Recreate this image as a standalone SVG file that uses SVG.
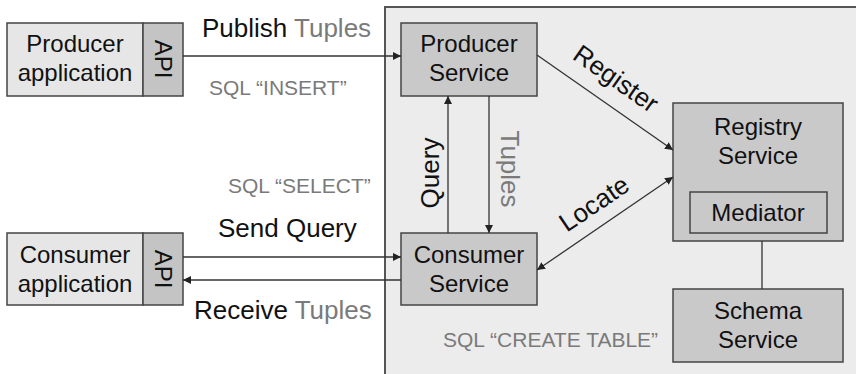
<svg xmlns="http://www.w3.org/2000/svg" width="856" height="374" viewBox="0 0 856 374">
  <defs>
    <marker id="arrow" viewBox="0 0 10 10" refX="10" refY="5" markerWidth="8" markerHeight="8" markerUnits="userSpaceOnUse" orient="auto-start-reverse">
      <path d="M0,0 L10,5 L0,10 z" fill="#222"/>
    </marker>
    <style>
      text { font-family: "Liberation Sans", Arial, sans-serif; }
      .box { fill: #c9c9c9; stroke: #444; stroke-width: 1.5; }
      .app { fill: #e6e6e6; stroke: #444; stroke-width: 1.5; }
      .api { fill: #c4c4c4; stroke: #444; stroke-width: 1.5; }
      .lbl { font-size: 24px; fill: #111; text-anchor: middle; }
      .big { font-size: 26px; fill: #111; }
      .grey { fill: #7a7a7a; }
      .sql { font-size: 21px; fill: #7a7a7a; }
      .wire { stroke: #333; stroke-width: 1.3; fill: none; }
    </style>
  </defs>

  <rect width="856" height="374" fill="#ffffff"/>

  <!-- service domain panel -->
  <rect id="panel" x="385" y="7" width="480" height="380" fill="#ececec" stroke="#555" stroke-width="2"/>

  <g id="producer-application">
    <rect class="app" x="7" y="23" width="136" height="73"/>
    <rect class="api" x="143" y="23" width="40" height="73"/>
    <text class="lbl" x="75" y="52">Producer</text>
    <text class="lbl" x="75" y="81">application</text>
    <text class="lbl" transform="translate(155,59) rotate(90)">API</text>
  </g>

  <g id="consumer-application">
    <rect class="app" x="7" y="233" width="136" height="72"/>
    <rect class="api" x="143" y="233" width="40" height="72"/>
    <text class="lbl" x="75" y="263">Consumer</text>
    <text class="lbl" x="75" y="292">application</text>
    <text class="lbl" transform="translate(155,269) rotate(90)">API</text>
  </g>

  <g id="producer-service">
    <rect class="box" x="401" y="23" width="136" height="73"/>
    <text class="lbl" x="469" y="52">Producer</text>
    <text class="lbl" x="469" y="81">Service</text>
  </g>

  <g id="consumer-service">
    <rect class="box" x="401" y="233" width="136" height="72"/>
    <text class="lbl" x="469" y="263">Consumer</text>
    <text class="lbl" x="469" y="292">Service</text>
  </g>

  <g id="registry-service">
    <rect class="box" x="673" y="103" width="170" height="138"/>
    <text class="lbl" x="758" y="135">Registry</text>
    <text class="lbl" x="758" y="164">Service</text>
  </g>

  <g id="mediator">
    <rect class="box" x="690" y="192" width="137" height="41"/>
    <text class="lbl" x="758" y="221">Mediator</text>
  </g>

  <g id="schema-service">
    <rect class="box" x="673" y="289" width="170" height="73"/>
    <text class="lbl" x="758" y="319">Schema</text>
    <text class="lbl" x="758" y="348">Service</text>
  </g>

  <g id="connectors">
    <line class="wire" x1="183" y1="56" x2="401" y2="56" marker-end="url(#arrow)"/>
    <line class="wire" x1="183" y1="257" x2="401" y2="257" marker-end="url(#arrow)"/>
    <line class="wire" x1="401" y1="280" x2="183" y2="280" marker-end="url(#arrow)"/>
    <line class="wire" x1="448" y1="233" x2="448" y2="96" marker-end="url(#arrow)"/>
    <line class="wire" x1="489" y1="96" x2="489" y2="233" marker-end="url(#arrow)"/>
    <line class="wire" x1="537" y1="55" x2="673" y2="150" marker-end="url(#arrow)"/>
    <line class="wire" x1="537" y1="270" x2="673" y2="177" marker-start="url(#arrow)" marker-end="url(#arrow)"/>
    <line class="wire" x1="762" y1="241" x2="762" y2="289"/>
  </g>

  <g id="labels">
    <text class="big" x="202" y="37">Publish <tspan class="grey">Tuples</tspan></text>
    <text class="sql" x="209" y="95">SQL “INSERT”</text>
    <text class="sql" x="228" y="193">SQL “SELECT”</text>
    <text class="big" x="218" y="237">Send Query</text>
    <text class="big" x="194" y="319">Receive <tspan class="grey">Tuples</tspan></text>
    <text class="big" text-anchor="middle" transform="translate(439,173) rotate(-90)">Query</text>
    <text class="big grey" text-anchor="middle" transform="translate(501,169) rotate(90)">Tuples</text>
    <text class="big" text-anchor="middle" transform="translate(611,86) rotate(35)">Register</text>
    <text class="big" text-anchor="middle" transform="translate(599,211) rotate(-34)">Locate</text>
    <text class="sql" x="443" y="347">SQL “CREATE TABLE”</text>
  </g>
</svg>
